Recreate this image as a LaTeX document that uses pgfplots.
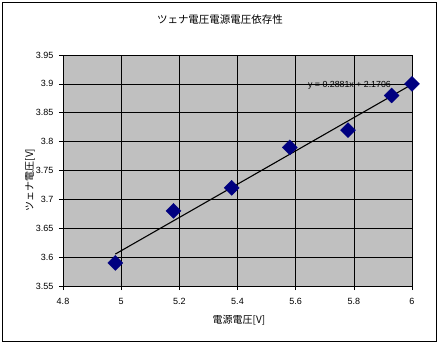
\documentclass[border=0pt]{standalone}
\usepackage{pgfplots}
\pgfplotsset{compat=1.18}
\usepackage{fontspec}
\setmainfont{Liberation Sans}
\newfontfamily\cjk{Noto Sans CJK JP}
\definecolor{plotgray}{HTML}{C0C0C0}
\definecolor{navy}{HTML}{000080}
\begin{document}
\begin{tikzpicture}[x=1pt,y=1pt]
\useasboundingbox (0,0) rectangle (440,-346);
\draw[black, line width=0.8pt] (2.5,-2.5) rectangle (436,-341);
\node[font=\cjk\fontsize{10.5}{12}\selectfont] at (220,-20) {ツェナ電圧電源電圧依存性};
\node[font=\fontsize{10}{12}\selectfont] at (239,-320) {\cjk 電源電圧[V]};
\node[font=\fontsize{10}{12}\selectfont, rotate=90] at (30,-180) {\cjk ツェナ電圧[V]};
\begin{axis}[
  at={(63pt,-55pt)}, anchor=north west,
  scale only axis, width=349pt, height=231pt,
  xmin=4.8, xmax=6, ymin=3.55, ymax=3.95,
  xtick={4.8,5,5.2,5.4,5.6,5.8,6},
  ytick={3.55,3.6,3.65,3.7,3.75,3.8,3.85,3.9,3.95},
  xticklabels={4.8,5,5.2,5.4,5.6,5.8,6},
  yticklabels={3.55,3.6,3.65,3.7,3.75,3.8,3.85,3.9,3.95},
  grid=major, major grid style={black, line width=0.6pt},
  axis background/.style={fill=plotgray},
  axis line style={black, line width=0.8pt},
  tick align=outside, major tick length=4pt,
  xtick pos=bottom, ytick pos=left,
  tick style={black, line width=0.6pt},
  ticklabel style={font=\fontsize{9}{10}\selectfont},
  xticklabel style={yshift=-5pt},
  yticklabel style={xshift=-2pt},
  clip=false,
]
\addplot[only marks, mark=square*, mark size=5.3pt, mark options={rotate=45, fill=navy, draw=navy}]
  coordinates {(4.98,3.59) (5.18,3.68) (5.38,3.72) (5.58,3.79) (5.78,3.82) (5.93,3.88) (6.0,3.90)};
\addplot[black, line width=1.1pt, no marks] coordinates {(4.98,3.6053) (6.0,3.8992)};
\node[font=\fontsize{8.8}{10}\selectfont, inner sep=0pt] at (axis cs:5.785,3.898) {y = 0.2881x + 2.1706};
\end{axis}
\end{tikzpicture}
\end{document}
